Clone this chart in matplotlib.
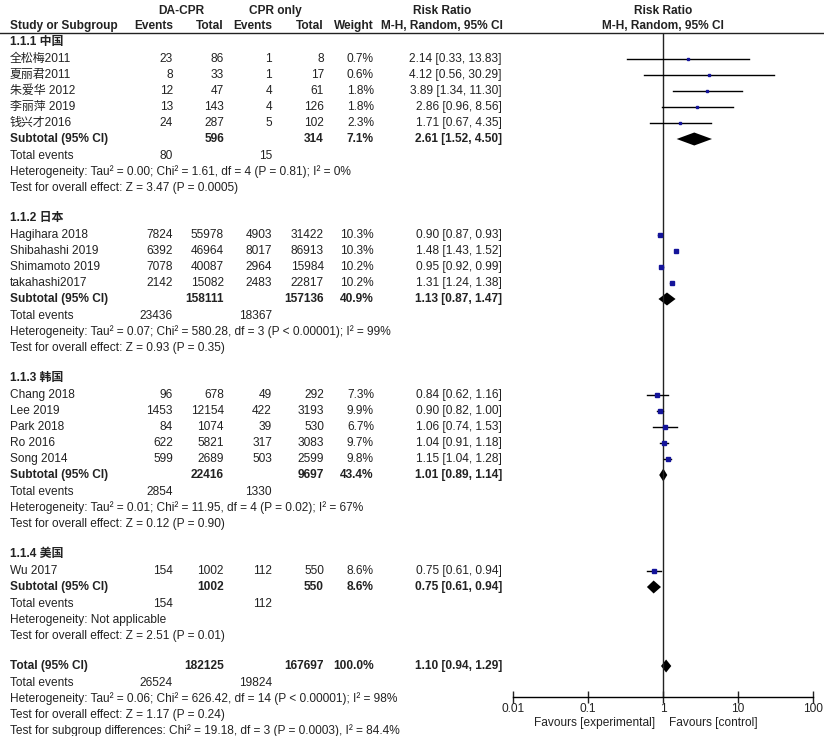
import matplotlib.pyplot as plt
from matplotlib.patches import Polygon

plt.rcParams['font.family'] = ['Liberation Sans', 'Noto Sans CJK SC']

# Study data, by subgroup
groups = ['1.1.1 中国', '1.1.2 日本', '1.1.3 韩国', '1.1.4 美国']
studies = [
    ['全松梅2011', '夏丽君2011', '朱爱华 2012', '李丽萍 2019', '钱兴才2016'],
    ['Hagihara 2018', 'Shibahashi 2019', 'Shimamoto 2019', 'takahashi2017'],
    ['Chang 2018', 'Lee 2019', 'Park 2018', 'Ro 2016', 'Song 2014'],
    ['Wu 2017'],
]
ev_e = [[23, 8, 12, 13, 24], [7824, 6392, 7078, 2142], [96, 1453, 84, 622, 599], [154]]
tot_e = [[86, 33, 47, 143, 287], [55978, 46964, 40087, 15082], [678, 12154, 1074, 5821, 2689], [1002]]
ev_c = [[1, 1, 4, 4, 5], [4903, 8017, 2964, 2483], [49, 422, 39, 317, 503], [112]]
tot_c = [[8, 17, 61, 126, 102], [31422, 86913, 15984, 22817], [292, 3193, 530, 3083, 2599], [550]]
weight = [[0.7, 0.6, 1.8, 1.8, 2.3], [10.3, 10.3, 10.2, 10.2], [7.3, 9.9, 6.7, 9.7, 9.8], [8.6]]
rr = [[2.14, 4.12, 3.89, 2.86, 1.71], [0.90, 1.48, 0.95, 1.31], [0.84, 0.90, 1.06, 1.04, 1.15], [0.75]]
lo = [[0.33, 0.56, 1.34, 0.96, 0.67], [0.87, 1.43, 0.92, 1.24], [0.62, 0.82, 0.74, 0.91, 1.04], [0.61]]
hi = [[13.83, 30.29, 11.30, 8.56, 4.35], [0.93, 1.52, 0.99, 1.38], [1.16, 1.00, 1.53, 1.18, 1.28], [0.94]]

# Subgroup summaries
sub_tot_e = [596, 158111, 22416, 1002]
sub_tot_c = [314, 157136, 9697, 550]
sub_w = ['7.1%', '40.9%', '43.4%', '8.6%']
sub_rr = [2.61, 1.13, 1.01, 0.75]
sub_lo = [1.52, 0.87, 0.89, 0.61]
sub_hi = [4.50, 1.47, 1.14, 0.94]
sub_ev_e = [80, 23436, 2854, 154]
sub_ev_c = [15, 18367, 1330, 112]
sub_het = [
    'Heterogeneity: Tau² = 0.00; Chi² = 1.61, df = 4 (P = 0.81); I² = 0%',
    'Heterogeneity: Tau² = 0.07; Chi² = 580.28, df = 3 (P < 0.00001); I² = 99%',
    'Heterogeneity: Tau² = 0.01; Chi² = 11.95, df = 4 (P = 0.02); I² = 67%',
    'Heterogeneity: Not applicable',
]
sub_test = [
    'Test for overall effect: Z = 3.47 (P = 0.0005)',
    'Test for overall effect: Z = 0.93 (P = 0.35)',
    'Test for overall effect: Z = 0.12 (P = 0.90)',
    'Test for overall effect: Z = 2.51 (P = 0.01)',
]

# Overall
total_e, total_c = 182125, 167697
total_rr, total_lo, total_hi = 1.10, 0.94, 1.29
total_ev_e, total_ev_c = 26524, 19824
total_lines = [
    'Heterogeneity: Tau² = 0.06; Chi² = 626.42, df = 14 (P < 0.00001); I² = 98%',
    'Test for overall effect: Z = 1.17 (P = 0.24)',
    'Test for subgroup differences: Chi² = 19.18, df = 3 (P = 0.0003), I² = 84.4%',
]

ticks = [0.01, 0.1, 1, 10, 100]
tick_labels = ['0.01', '0.1', '1', '10', '100']

W, H = 824, 736
fig = plt.figure(figsize=(W / 100, H / 100), dpi=100)
ax = fig.add_axes([0, 0, 1, 1])
ax.set_xlim(0, W)
ax.set_ylim(H, 0)
ax.axis('off')

# forest panel: x log scale, y in pixel rows
x0, x1, ytop, ybot = 513, 813, 33, 697
fax = fig.add_axes([x0 / W, (H - ybot) / H, (x1 - x0) / W, (ybot - ytop) / H])
fax.set_xscale('log')
fax.set_xlim(0.01, 100)
fax.set_ylim(ybot, ytop)
fax.patch.set_alpha(0)
for s in ['top', 'left', 'right']:
    fax.spines[s].set_visible(False)
fax.spines['bottom'].set_linewidth(1)
fax.set_yticks([])
fax.set_xticks(ticks)
fax.set_xticklabels(tick_labels)
fax.minorticks_off()
fax.tick_params(axis='x', direction='inout', length=8, width=1, labelsize=8.6, pad=0, colors='#222222')
fax.axvline(1, color='#222222', lw=1)

fs = 8.6
col = '#222222'
cx = {'ev_e': 173, 'tot_e': 224, 'ev_c': 272, 'tot_c': 324, 'w': 374, 'ci': 502}


def txt(x, y, s, ha='left', bold=False):
    ax.text(x, y, s, ha=ha, va='center', fontsize=fs, color=col,
            fontweight='bold' if bold else 'normal')


def diamond(y, r, l, h, half=6.5):
    fax.add_patch(Polygon([[l, y], [r, y - half], [h, y], [r, y + half]],
                          closed=True, color='black', lw=0))


# headers
txt(181, 11, 'DA-CPR', ha='center', bold=True)
txt(275, 11, 'CPR only', ha='center', bold=True)
txt(442, 11, 'Risk Ratio', ha='center', bold=True)
txt(663, 11, 'Risk Ratio', ha='center', bold=True)
txt(10, 26, 'Study or Subgroup', bold=True)
txt(cx['ev_e'], 26, 'Events', ha='right', bold=True)
txt(cx['tot_e'], 26, 'Total', ha='right', bold=True)
txt(cx['ev_c'], 26, 'Events', ha='right', bold=True)
txt(cx['tot_c'], 26, 'Total', ha='right', bold=True)
txt(cx['w'], 26, 'Weight', ha='right', bold=True)
txt(442, 26, 'M-H, Random, 95% CI', ha='center', bold=True)
txt(663, 26, 'M-H, Random, 95% CI', ha='center', bold=True)
ax.plot([0, W], [33, 33], color='#222222', lw=1)

y = 42
for g in range(len(groups)):
    txt(10, y, groups[g], bold=True)
    y += 17
    for i, name in enumerate(studies[g]):
        txt(10, y, name)
        txt(cx['ev_e'], y, str(ev_e[g][i]), ha='right')
        txt(cx['tot_e'], y, str(tot_e[g][i]), ha='right')
        txt(cx['ev_c'], y, str(ev_c[g][i]), ha='right')
        txt(cx['tot_c'], y, str(tot_c[g][i]), ha='right')
        txt(cx['w'], y, f'{weight[g][i]:.1f}%', ha='right')
        txt(cx['ci'], y, f'{rr[g][i]:.2f} [{lo[g][i]:.2f}, {hi[g][i]:.2f}]', ha='right')
        fax.plot([lo[g][i], hi[g][i]], [y, y], color='black', lw=1)
        fax.plot(rr[g][i], y, marker='s', ms=max(1.5, 0.85 * weight[g][i] ** 0.5),
                 color='#14149a', mec='#14149a', lw=0)
        y += 16
    txt(10, y, 'Subtotal (95% CI)', bold=True)
    txt(cx['tot_e'], y, str(sub_tot_e[g]), ha='right', bold=True)
    txt(cx['tot_c'], y, str(sub_tot_c[g]), ha='right', bold=True)
    txt(cx['w'], y, sub_w[g], ha='right', bold=True)
    txt(cx['ci'], y, f'{sub_rr[g]:.2f} [{sub_lo[g]:.2f}, {sub_hi[g]:.2f}]', ha='right', bold=True)
    diamond(y, sub_rr[g], sub_lo[g], sub_hi[g])
    y += 17
    txt(10, y, 'Total events')
    txt(cx['ev_e'], y, str(sub_ev_e[g]), ha='right')
    txt(cx['ev_c'], y, str(sub_ev_c[g]), ha='right')
    y += 16
    txt(10, y, sub_het[g])
    y += 16
    txt(10, y, sub_test[g])
    y += 30

# overall
txt(10, y, 'Total (95% CI)', bold=True)
txt(cx['tot_e'], y, str(total_e), ha='right', bold=True)
txt(cx['tot_c'], y, str(total_c), ha='right', bold=True)
txt(cx['w'], y, '100.0%', ha='right', bold=True)
txt(cx['ci'], y, f'{total_rr:.2f} [{total_lo:.2f}, {total_hi:.2f}]', ha='right', bold=True)
diamond(y, total_rr, total_lo, total_hi)
y += 17
txt(10, y, 'Total events')
txt(cx['ev_e'], y, str(total_ev_e), ha='right')
txt(cx['ev_c'], y, str(total_ev_c), ha='right')
for line in total_lines:
    y += 16
    txt(10, y, line)

txt(595, 723, 'Favours [experimental]', ha='center')
txt(713, 723, 'Favours [control]', ha='center')

fig.savefig('out.png', dpi=100)
